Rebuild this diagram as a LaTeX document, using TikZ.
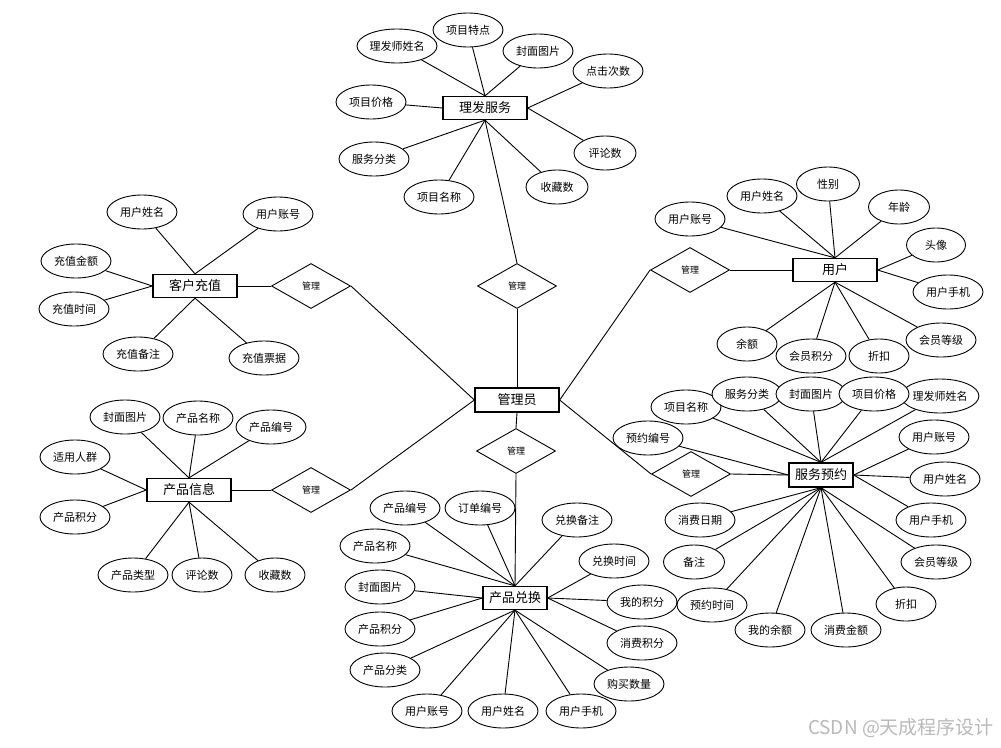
\documentclass[tikz,border=0pt]{standalone}
\usepackage{fontspec}
\setmainfont{Noto Sans CJK SC}
\usepackage{tikz}
\usetikzlibrary{shapes.geometric,backgrounds}
\definecolor{GrisMarca}{RGB}{185,185,185}

\tikzset{
  entidad/.style={draw,line width=1.3pt,fill=white,minimum width=84pt,minimum height=23pt,inner sep=0pt,font=\fontsize{13}{15}\selectfont},
  atributo/.style={draw,ellipse,line width=0.9pt,fill=white,minimum height=34pt,inner sep=0pt,font=\fontsize{11}{13}\selectfont},
  relacion/.style={draw,diamond,line width=0.9pt,minimum width=79pt,minimum height=45pt,inner sep=0pt,font=\fontsize{9}{11}\selectfont},
  conn/.style={line width=0.9pt},
  wmtext/.style={text=GrisMarca,font=\fontsize{19}{21}\selectfont}
}

\begin{document}
\begin{tikzpicture}[x=1pt,y=-1pt]
  \useasboundingbox (0,0) rectangle (1001,747);
  % entidades
  \node[entidad] (lf) at (485,108) {理发服务};
  \node[entidad] (kh) at (195,286) {客户充值};
  \node[entidad] (yh) at (835,270) {用户};
  \node[entidad] (cp) at (189,490) {产品信息};
  \node[entidad,minimum width=64pt,minimum height=24pt] (fy) at (821,475) {服务预约};
  \node[entidad,minimum width=64pt] (dh) at (515,598) {产品兑换};
  \node[entidad,minimum height=24pt] (gly) at (517,400) {管理员};
  % relaciones
  \node[relacion] (glA) at (517,286) {管理};
  \node[relacion] (glB) at (516,451) {管理};
  \node[relacion] (glC) at (311,286) {管理};
  \node[relacion] (glD) at (311,490) {管理};
  \node[relacion] (glE) at (690,270) {管理};
  \node[relacion] (glF) at (691,474) {管理};
  % atributos
  \foreach \nm/\x/\y/\w/\txt in {lfA/397/46/80/理发师姓名, lfB/468/30/70/项目特点, lfC/538/51/70/封面图片,
      lfD/608/71/70/点击次数, lfE/371/102/70/项目价格, lfF/374/159/70/服务分类, lfG/439/197/70/项目名称,
      lfH/557/187/62/收藏数, lfI/605/153/62/评论数,
      khA/142/212/70/用户姓名, khB/278/214/70/用户账号, khC/76/261/70/充值金额, khD/74/309/70/充值时间,
      khE/138/354/70/充值备注, khF/264/358/70/充值票据,
      yhA/690/219/70/用户账号, yhB/762/196/70/用户姓名, yhC/828/184/63/性别, yhD/899/207/61/年龄,
      yhE/936/245/59/头像, yhF/948/292/70/用户手机, yhG/747/344/60/余额, yhH/811/356/70/会员积分,
      yhI/879/356/60/折扣, yhJ/941/340/70/会员等级,
      cpA/125/417/70/封面图片, cpB/198/418/70/产品名称, cpC/271/427/70/产品编号, cpD/75/457/70/适用人群,
      cpE/75/517/70/产品积分, cpF/133/575/70/产品类型, cpG/202/575/60/评论数, cpH/275/575/60/收藏数,
      fyA/686/407/70/项目名称, fyB/747/394/70/服务分类, fyC/811/394/70/封面图片, fyD/940/396/76/理发师姓名,
      fyE/874/394/70/项目价格, fyF/648/438/70/预约编号, fyG/934/437/70/用户账号, fyH/945/479/70/用户姓名,
      fyI/931/520/70/用户手机, fyJ/936/562/70/会员等级, fyK/906/604/60/折扣, fyL/846/630/70/消费金额,
      fyM/770/630/70/我的余额, fyN/712/605/70/预约时间, fyO/694/562/61/备注, fyP/700/520/70/消费日期,
      dhA/405/508/70/产品编号, dhB/480/508/70/订单编号, dhC/577/520/70/兑换备注, dhD/375/546/70/产品名称,
      dhE/380/587/70/封面图片, dhF/380/629/70/产品积分, dhG/385/670/70/产品分类, dhH/427/711/70/用户账号,
      dhI/503/711/70/用户姓名, dhJ/581/711/70/用户手机, dhK/629/684/70/购买数量, dhL/614/561/70/兑换时间,
      dhM/642/602/70/我的积分, dhN/642/643/70/消费积分}
    \node[atributo,minimum width=\w pt] (\nm) at (\x,\y) {\txt};
  \node[wmtext] (marca) at (901,728) {CSDN @天成程序设计};
  % conexiones
  \begin{pgfonlayer}{background}
    \draw[conn] (lf.south) -- (glA.north);
    \draw[conn] (glA.south) -- (gly.north);
    \draw[conn] (gly.south) -- (glB.north);
    \draw[conn] (glB.south) -- (dh.north);
    \draw[conn] (kh.east) -- (glC.west);
    \draw[conn] (glC.east) -- (gly.west);
    \draw[conn] (cp.east) -- (glD.west);
    \draw[conn] (glD.east) -- (gly.west);
    \draw[conn] (yh.west) -- (glE.east);
    \draw[conn] (glE.west) -- (gly.east);
    \draw[conn] (fy.west) -- (glF.east);
    \draw[conn] (glF.west) -- (gly.east);
    \foreach \nm/\anc in {lfA/north, lfB/north, lfC/north, lfD/east, lfE/west, lfF/south, lfG/south, lfH/south, lfI/east}
      \draw[conn] (\nm) -- (lf.\anc);
    \foreach \nm/\anc in {khA/north, khB/north, khC/west, khD/west, khE/south, khF/south}
      \draw[conn] (\nm) -- (kh.\anc);
    \foreach \nm/\anc in {yhA/north, yhB/north, yhC/north, yhD/north, yhE/east, yhF/east, yhG/south, yhH/south, yhI/south, yhJ/south}
      \draw[conn] (\nm) -- (yh.\anc);
    \foreach \nm/\anc in {cpA/north, cpB/north, cpC/north, cpD/west, cpE/west, cpF/south, cpG/south, cpH/south}
      \draw[conn] (\nm) -- (cp.\anc);
    \foreach \nm/\anc in {fyA/north, fyB/north, fyC/north, fyD/north, fyE/north, fyF/west, fyG/east, fyH/east, fyI/east,
        fyJ/south, fyK/south, fyL/south, fyM/south, fyN/south, fyO/south, fyP/south}
      \draw[conn] (\nm) -- (fy.\anc);
    \foreach \nm/\anc in {dhA/north, dhB/north, dhC/north, dhD/north, dhE/west, dhF/west, dhG/south, dhH/south,
        dhI/south, dhJ/south, dhK/south, dhL/east, dhM/east, dhN/east}
      \draw[conn] (\nm) -- (dh.\anc);
  \end{pgfonlayer}
\end{tikzpicture}
\end{document}
